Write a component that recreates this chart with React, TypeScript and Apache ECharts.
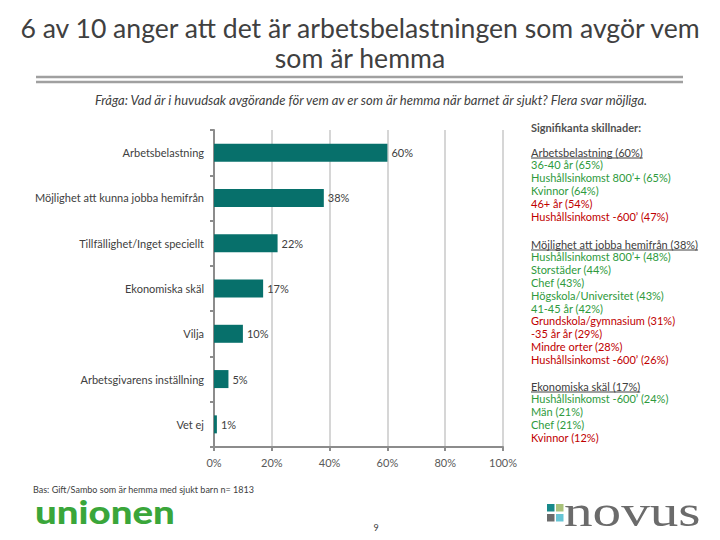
import React, { useEffect, useRef } from "react";
import * as echarts from "echarts";

const categories = [
  "Arbetsbelastning",
  "Möjlighet att kunna jobba hemifrån",
  "Tillfällighet/Inget speciellt",
  "Ekonomiska skäl",
  "Vilja",
  "Arbetsgivarens inställning",
  "Vet ej",
];
const values = [60, 38, 22, 17, 10, 5, 1];

const xTicks = [0, 20, 40, 60, 80, 100];

const titleLines = ["6 av 10 anger att det är arbetsbelastningen som avgör vem", "som är hemma"];
const question = "Fråga: Vad är i huvudsak avgörande för vem av er som är hemma när barnet är sjukt? Flera svar möjliga.";
const notesHeading = "Signifikanta skillnader:";

const noteHeaders = [
  "Arbetsbelastning (60%)",
  "Möjlighet att jobba hemifrån (38%)",
  "Ekonomiska skäl (17%)",
];
const noteGreen = [
  ["36-40 år (65%)", "Hushållsinkomst 800’+ (65%)", "Kvinnor (64%)"],
  ["Hushållsinkomst 800’+ (48%)", "Storstäder (44%)", "Chef (43%)", "Högskola/Universitet (43%)", "41-45 år (42%)"],
  ["Hushållsinkomst -600’ (24%)", "Män (21%)", "Chef (21%)"],
];
const noteRed = [
  ["46+ år (54%)", "Hushållsinkomst -600’ (47%)"],
  ["Grundskola/gymnasium (31%)", "-35 år år (29%)", "Mindre orter (28%)", "Hushållsinkomst -600’ (26%)"],
  ["Kvinnor (12%)"],
];
const footnote = "Bas: Gift/Sambo som är hemma med sjukt barn n= 1813";
const pageNumber = "9";

const FONT = "Lato, 'Noto Sans', sans-serif";
const DARK = "#404040";
const GREEN = "#2e9a3c";
const RED = "#c00000";
const TEAL = "#07706b";

function measure(text: string, font: string): number {
  const c = document.createElement("canvas").getContext("2d");
  if (!c) return text.length * 5;
  c.font = font;
  return c.measureText(text).width;
}

export default function App() {
  const ref = useRef<HTMLDivElement>(null);
  useEffect(() => {
    if (!ref.current) return;
    const chart = echarts.init(ref.current, undefined, { renderer: "svg" });

    const graphic: any[] = [];
    titleLines.forEach((t, i) => {
      graphic.push({
        type: "text",
        x: 360,
        y: 28 + i * 30,
        style: { text: t, fill: DARK, font: `26.6px ${FONT}`, textAlign: "center", textVerticalAlign: "middle" },
      });
    });
    [77, 82].forEach((y) => {
      graphic.push({
        type: "line",
        shape: { x1: 36, y1: y, x2: 683, y2: y },
        style: { stroke: "#a0a0a0", lineWidth: 2.5 },
      });
    });
    graphic.push({
      type: "text",
      x: 371,
      y: 100,
      style: { text: question, fill: DARK, font: `italic 13px ${FONT}`, textAlign: "center", textVerticalAlign: "middle" },
    });
    graphic.push({
      type: "text",
      x: 531,
      y: 127,
      style: { text: notesHeading, fill: "#505050", font: `bold 11px ${FONT}`, textAlign: "left", textVerticalAlign: "middle" },
    });
    const blockTops = [152, 244, 386];
    const step = 12.8;
    const noteFont = `11px ${FONT}`;
    noteHeaders.forEach((h, bi) => {
      const y0 = blockTops[bi];
      graphic.push({
        type: "text",
        x: 531,
        y: y0,
        style: { text: h, fill: DARK, font: noteFont, textAlign: "left", textVerticalAlign: "middle" },
      });
      const w = measure(h, noteFont);
      graphic.push({
        type: "line",
        shape: { x1: 531, y1: y0 + 6, x2: 531 + w, y2: y0 + 6 },
        style: { stroke: DARK, lineWidth: 1 },
      });
      const lines = [
        ...noteGreen[bi].map((t) => ({ t, c: GREEN })),
        ...noteRed[bi].map((t) => ({ t, c: RED })),
      ];
      lines.forEach((l, li) => {
        graphic.push({
          type: "text",
          x: 531,
          y: y0 + (li + 1) * step,
          style: { text: l.t, fill: l.c, font: noteFont, textAlign: "left", textVerticalAlign: "middle" },
        });
      });
    });
    graphic.push({
      type: "text",
      x: 33,
      y: 489,
      style: { text: footnote, fill: DARK, font: `9px ${FONT}`, textAlign: "left", textVerticalAlign: "middle" },
    });
    graphic.push({
      type: "text",
      x: 376,
      y: 527,
      style: { text: pageNumber, fill: DARK, font: `9px ${FONT}`, textAlign: "center", textVerticalAlign: "middle" },
    });
    // unionen logo
    graphic.push({
      type: "text",
      x: 35,
      y: 512,
      scaleX: 1.2,
      style: { text: "unionen", fill: "#3aa63a", font: `900 32px ${FONT}`, textAlign: "left", textVerticalAlign: "middle" },
    });
    // novus logo
    const sq = [
      { x: 547, y: 504, c: "#17898a" },
      { x: 556, y: 504, c: "#a9c27a" },
      { x: 547, y: 514, c: "#6b6b6b" },
      { x: 556, y: 514, c: "#66c5d5" },
    ];
    sq.forEach((s) => {
      graphic.push({ type: "rect", shape: { x: s.x, y: s.y, width: 7.5, height: 7.5 }, style: { fill: s.c } });
    });
    graphic.push({
      type: "text",
      x: 564,
      y: 511,
      scaleX: 1.3,
      style: { text: "novus", fill: "#6b6b6b", font: `44px 'Liberation Serif', serif`, textAlign: "left", textVerticalAlign: "middle" },
    });

    chart.setOption({
      animation: false,
      backgroundColor: "#ffffff",
      grid: { left: 214, right: 217, top: 130, height: 317, containLabel: false },
      xAxis: {
        type: "value",
        min: 0,
        max: 100,
        interval: 20,
        axisLine: { show: true, lineStyle: { color: "#8c8c8c", width: 2 } },
        axisTick: { show: true, length: 4, lineStyle: { color: "#8c8c8c", width: 2 } },
        axisLabel: {
          formatter: (v: number) => (xTicks.includes(v) ? `${v}%` : ""),
          color: "#595959",
          fontFamily: FONT,
          fontSize: 11,
          margin: 10,
        },
        splitLine: { show: true, lineStyle: { color: "#d6d6d6", width: 2 } },
      },
      yAxis: {
        type: "category",
        data: categories,
        inverse: true,
        axisLine: { show: true, lineStyle: { color: "#8c8c8c", width: 2 } },
        axisTick: { show: true, length: 4, lineStyle: { color: "#8c8c8c", width: 2 } },
        axisLabel: { color: DARK, fontFamily: FONT, fontSize: 11, margin: 10 },
      },
      series: [
        {
          type: "bar",
          data: values,
          barWidth: 18,
          itemStyle: { color: TEAL },
          label: {
            show: true,
            position: "right",
            distance: 4,
            formatter: "{c}%",
            color: DARK,
            fontFamily: FONT,
            fontSize: 11,
          },
        },
      ],
      graphic,
    });
    return () => chart.dispose();
  }, []);
  return (
    <div
      ref={ref}
      style={{ position: "fixed", left: 0, top: 0, width: 720, height: 540, background: "#fff" }}
    />
  );
}
